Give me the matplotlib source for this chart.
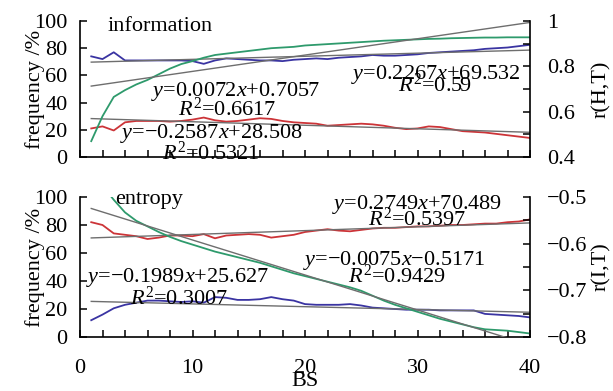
import numpy as np
import matplotlib
matplotlib.use("Agg")
import matplotlib.pyplot as plt
from matplotlib.ticker import FixedLocator, FixedFormatter, MultipleLocator

plt.rcParams['font.family'] = ['Liberation Serif', 'DejaVu Serif']
plt.rcParams['mathtext.fontset'] = 'custom'
plt.rcParams['mathtext.rm'] = 'Liberation Serif'
plt.rcParams['mathtext.it'] = 'Liberation Serif:italic'

bs = np.arange(1, 41)

# Top panel: information
info_blue = [74, 72, 77, 71, 71, 71, 71, 71, 71, 70.5, 68.5, 71, 72.5, 72, 71.5, 71, 71, 70.5, 71.5, 72,
             72.5, 72, 73, 73.5, 74, 75, 74.5, 74.5, 75, 75.5, 76.5, 77, 77.5, 78, 78.5, 79.5, 80, 80.5, 81.5, 82.5]
info_red = [21, 22.5, 19.5, 25.5, 26.5, 26.5, 26.5, 26, 26.5, 27.5, 29, 27, 26, 26.5, 27.5, 28.5, 28, 26.5, 25.5, 25,
            24.5, 23, 23.5, 24, 24.5, 24, 23, 21.5, 20.5, 21, 22.5, 22, 20.5, 19, 18.5, 18, 17, 16, 15, 14]
info_green = [0.47, 0.58, 0.665, 0.695, 0.72, 0.74, 0.765, 0.79, 0.81, 0.823, 0.838, 0.85, 0.856, 0.862, 0.868,
              0.874, 0.88, 0.883, 0.886, 0.892, 0.895, 0.898, 0.901, 0.904, 0.907, 0.91, 0.913, 0.915, 0.917,
              0.919, 0.921, 0.922, 0.924, 0.925, 0.926, 0.927, 0.927, 0.928, 0.928, 0.928]

# Bottom panel: entropy
ent_red = [82, 80, 74, 73, 72, 70, 71, 72.5, 72.5, 72, 73.5, 70.5, 72.5, 73, 73.5, 73, 71, 72, 73, 75,
           76, 77, 76, 75.5, 76.5, 77.5, 78, 78, 78.5, 79, 79, 79.5, 80, 80, 80.5, 81, 81, 82, 82.5, 84]
ent_blue = [12, 16, 20.5, 23, 24.5, 26, 26, 25.5, 25, 25.5, 24.5, 28.5, 28, 26.5, 26.5, 27, 28.5, 27, 26, 23.5,
            23, 23, 23, 23.5, 22.5, 21, 20.5, 20, 19.5, 19.5, 19.5, 19, 19, 19, 19, 16.5, 16, 15.5, 15, 14]
ent_green = [-0.446, -0.476, -0.506, -0.533, -0.551, -0.563, -0.575, -0.5855, -0.5945, -0.602, -0.6095, -0.617,
             -0.623, -0.629, -0.635, -0.641, -0.6485, -0.656, -0.6635, -0.6695, -0.6755, -0.6815, -0.6875,
             -0.6935, -0.701, -0.7115, -0.722, -0.731, -0.7385, -0.746, -0.7535, -0.761, -0.767, -0.773,
             -0.779, -0.7835, -0.785, -0.7865, -0.7895, -0.7925]

# Linear fits (slope, intercept) as printed on the chart
fit_info_blue = (0.2267, 69.532)
fit_info_red = (-0.2587, 28.508)
fit_info_green = (0.0072, 0.7057)
fit_ent_red = (0.2749, 70.489)
fit_ent_blue = (-0.1989, 25.627)
fit_ent_green = (-0.0075, -0.5171)

BLUE = '#3a34a2'
RED = '#cc3438'
GREEN = '#2e9a6c'
GRAY = '#6e6e6e'
FS = 16

fig = plt.figure(figsize=(6.13, 3.91), dpi=100)
W, H = 613, 391

def axrect(l, t, r, b):
    return [l / W, 1 - b / H, (r - l) / W, (b - t) / H]

ax1 = fig.add_axes(axrect(80, 21, 530, 157))
ax2 = fig.add_axes(axrect(80, 197, 530, 337))

def style(ax, tw, bottom_labels):
    ax.set_xlim(0, 40)
    ax.set_ylim(0, 100)
    ax.xaxis.set_major_locator(MultipleLocator(10))
    ax.xaxis.set_minor_locator(MultipleLocator(2))
    ax.set_yticks([0, 20, 40, 60, 80, 100])
    ax.tick_params(axis='both', which='both', direction='in', length=5, width=1.1,
                   labelsize=FS, top=False, right=False)
    ax.tick_params(axis='x', pad=16, labelbottom=bottom_labels)
    ax.tick_params(axis='y', pad=9)
    for s in ['left', 'bottom']:
        ax.spines[s].set_linewidth(1.2)
    ax.spines['top'].set_visible(False)
    ax.spines['right'].set_visible(False)
    tw.spines['top'].set_visible(False)
    tw.spines['left'].set_visible(False)
    tw.spines['bottom'].set_visible(False)
    tw.spines['right'].set_linewidth(1.2)
    tw.tick_params(axis='y', which='both', direction='in', length=5, width=1.1,
                   labelsize=FS, pad=12, left=False, right=True)
    ax.set_ylabel('frequency /%', fontsize=FS)
    ax.yaxis.set_label_coords(-0.078, 0.5)

# --- Top panel ---
t1 = ax1.twinx()
style(ax1, t1, False)
t1.set_ylim(0.4, 1.0)
t1.yaxis.set_major_locator(FixedLocator([0.4, 0.6, 0.8, 1.0]))
t1.yaxis.set_major_formatter(FixedFormatter(['0.4', '0.6', '0.8', '1']))
t1.yaxis.set_minor_locator(FixedLocator([0.5, 0.7, 0.9]))
t1.set_ylabel('r(H,T)', fontsize=FS)
t1.yaxis.set_label_coords(1.138, 0.5)

ax1.plot(bs, info_blue, color=BLUE, lw=1.3)
ax1.plot(bs, info_red, color=RED, lw=1.3)
t1.plot(bs, info_green, color=GREEN, lw=1.3)
ax1.plot(bs, fit_info_blue[0] * bs + fit_info_blue[1], color=GRAY, lw=1.0)
ax1.plot(bs, fit_info_red[0] * bs + fit_info_red[1], color=GRAY, lw=1.0)
t1.plot(bs, fit_info_green[0] * bs + fit_info_green[1], color=GRAY, lw=1.0)

ax1.text(7.1, 96, 'information', fontsize=FS, ha='center', va='center')
ax1.text(13.8, 48.5, r'$y$=0.0072$x$+0.7057', fontsize=FS, ha='center', va='center')
ax1.text(13.1, 35, r'$R^2$=0.6617', fontsize=FS, ha='center', va='center')
ax1.text(11.7, 17.5, '$y$=\u22120.2587$x$+28.508', fontsize=FS, ha='center', va='center')
ax1.text(11.6, 2.5, r'$R^2$=0.5321', fontsize=FS, ha='center', va='center')
ax1.text(31.6, 61, r'$y$=0.2267$x$+69.532', fontsize=FS, ha='center', va='center')
ax1.text(31.6, 52.5, r'$R^2$=0.59', fontsize=FS, ha='center', va='center')

# --- Bottom panel ---
t2 = ax2.twinx()
style(ax2, t2, True)
t2.set_ylim(-0.8, -0.5)
t2.yaxis.set_major_locator(FixedLocator([-0.8, -0.7, -0.6, -0.5]))
t2.yaxis.set_major_formatter(FixedFormatter(['\u22120.8', '\u22120.7', '\u22120.6', '\u22120.5']))
t2.yaxis.set_minor_locator(FixedLocator([-0.75, -0.65, -0.55]))
t2.set_ylabel('r(I,T)', fontsize=FS)
t2.yaxis.set_label_coords(1.138, 0.5)

ax2.plot(bs, ent_red, color=RED, lw=1.3)
ax2.plot(bs, ent_blue, color=BLUE, lw=1.3)
t2.plot(bs, ent_green, color=GREEN, lw=1.3)
ax2.plot(bs, fit_ent_red[0] * bs + fit_ent_red[1], color=GRAY, lw=1.0)
ax2.plot(bs, fit_ent_blue[0] * bs + fit_ent_blue[1], color=GRAY, lw=1.0)
t2.plot(bs, fit_ent_green[0] * bs + fit_ent_green[1], color=GRAY, lw=1.0)

ax2.text(6.1, 98, 'entropy', fontsize=FS, ha='center', va='center')
ax2.text(30, 95, r'$y$=0.2749$x$+70.489', fontsize=FS, ha='center', va='center')
ax2.text(30, 84, r'$R^2$=0.5397', fontsize=FS, ha='center', va='center')
ax2.text(27.9, 54.5, '$y$=\u22120.0075$x$\u22120.5171', fontsize=FS, ha='center', va='center')
ax2.text(28.2, 43.5, r'$R^2$=0.9429', fontsize=FS, ha='center', va='center')
ax2.text(8.7, 42.5, '$y$=\u22120.1989$x$+25.627', fontsize=FS, ha='center', va='center')
ax2.text(8.8, 28, r'$R^2$=0.3007', fontsize=FS, ha='center', va='center')

ax2.set_xlabel('BS', fontsize=FS)
ax2.xaxis.set_label_coords(0.5, -0.25)

fig.savefig('out.png', dpi=100)
